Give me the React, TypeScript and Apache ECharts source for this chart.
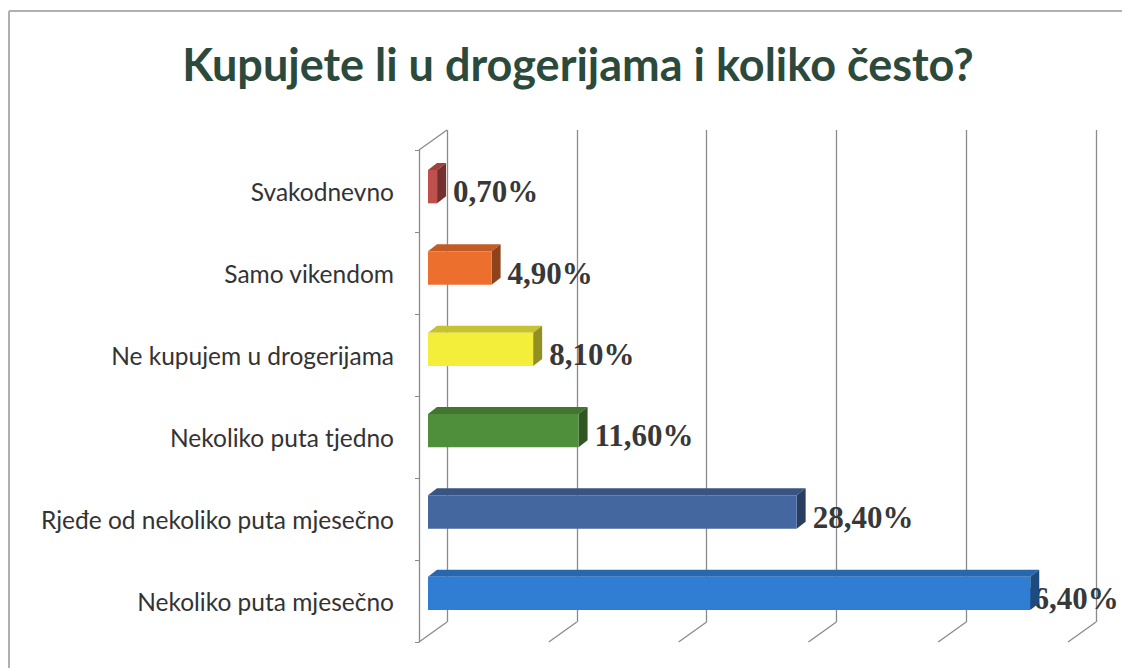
import React, { useEffect, useRef } from "react";
import * as echarts from "echarts";

const TITLE = "Kupujete li u drogerijama i koliko često?";
const CATEGORIES = [
  "Svakodnevno",
  "Samo vikendom",
  "Ne kupujem u drogerijama",
  "Nekoliko puta tjedno",
  "Rjeđe od nekoliko puta mjesečno",
  "Nekoliko puta mjesečno",
];
const VALUES = [0.7, 4.9, 8.1, 11.6, 28.4, 46.4];
const COLORS = ["#c0504d", "#ec6f2e", "#f3ee3a", "#4f8f3b", "#44679f", "#2f7ed3"];
const TICKS = [0, 10, 20, 30, 40, 50];

function shade(hex: string, f: number): string {
  const n = parseInt(hex.slice(1), 16);
  const r = Math.round(((n >> 16) & 255) * f);
  const g = Math.round(((n >> 8) & 255) * f);
  const b = Math.round((n & 255) * f);
  return `rgb(${r},${g},${b})`;
}

const fmt = (v: number) => v.toFixed(2).replace(".", ",") + "%";

export default function App() {
  const ref = useRef<HTMLDivElement>(null);
  useEffect(() => {
    if (!ref.current) return;
    const chart = echarts.init(ref.current, null, { renderer: "svg" });
    const DX = 9, DY = 7; // bar depth
    const WX = -28, WY = 20; // wall depth (back -> front)
    const gridColor = "#8a8a8a";
    chart.setOption({
      animation: false,
      backgroundColor: "#ffffff",
      title: {
        text: TITLE,
        left: 573,
        textAlign: "center",
        top: 36,
        textStyle: {
          fontFamily: "Lato",
          fontWeight: "bold",
          fontSize: 45,
          color: "#2b4a3c",
        },
      },
      graphic: [
        { type: "line", shape: { x1: 9, y1: 11, x2: 1122, y2: 11 }, style: { stroke: "#b0b0b0", lineWidth: 2 } },
        { type: "line", shape: { x1: 9, y1: 11, x2: 9, y2: 668 }, style: { stroke: "#b0b0b0", lineWidth: 2 } },
      ],
      grid: [
        { left: 428, right: 45, top: 146, bottom: 34 },
        { left: 447, right: 26, top: 130, bottom: 46 },
        { left: 419, right: 54, top: 150, bottom: 26 },
      ],
      xAxis: [
        { gridIndex: 0, type: "value", min: 0, max: 50, interval: 10, show: false },
        {
          gridIndex: 1, type: "value", min: 0, max: 50, interval: 10,
          axisLine: { show: false }, axisTick: { show: false }, axisLabel: { show: false },
          splitLine: { show: true, lineStyle: { color: gridColor, width: 1.3 } },
        },
        { gridIndex: 2, type: "value", min: 0, max: 50, show: false },
      ],
      yAxis: [
        { gridIndex: 0, type: "category", data: CATEGORIES, inverse: true, show: false },
        { gridIndex: 1, type: "value", min: 0, max: 1, show: false },
        {
          gridIndex: 2, type: "category", data: CATEGORIES, inverse: true,
          axisLine: { show: true, lineStyle: { color: gridColor, width: 1.3 } },
          axisTick: { show: true, length: 4, lineStyle: { color: gridColor } },
          splitLine: { show: false },
          axisLabel: {
            margin: 25,
            fontFamily: "Lato",
            fontSize: 24.5,
            color: "#333333",
          },
        },
      ],
      series: [
        {
          type: "custom",
          xAxisIndex: 1,
          yAxisIndex: 1,
          silent: true,
          data: TICKS.map((t) => [t, 0]),
          renderItem: (params: any, api: any) => {
            const t = api.value(0);
            const p = api.coord([t, 0]);
            const children: any[] = [
              {
                type: "line",
                shape: { x1: p[0], y1: p[1], x2: p[0] + WX, y2: p[1] + WY },
                style: { stroke: gridColor, lineWidth: 1.3 },
              },
            ];
            if (params.dataIndex === 0) {
              const top = api.coord([t, 1]);
              children.push({
                type: "line",
                shape: { x1: top[0], y1: top[1], x2: top[0] + WX, y2: top[1] + WY },
                style: { stroke: gridColor, lineWidth: 1.3 },
              });
            }
            return { type: "group", children };
          },
        },
        {
          type: "custom",
          xAxisIndex: 0,
          yAxisIndex: 0,
          silent: true,
          clip: false,
          data: VALUES.map((v, i) => [v, i]),
          encode: { x: 0, y: 1 },
          renderItem: (params: any, api: any) => {
            const v = api.value(0);
            const i = api.value(1);
            const s = api.coord([0, i]);
            const e = api.coord([v, i]);
            const h = api.size([0, 1])[1] * 0.41;
            const x0 = s[0], x1 = e[0];
            const y0 = s[1] - h / 2, y1 = s[1] + h / 2;
            const c = COLORS[params.dataIndex];
            const lx = Math.min(x1 + 16, 1018);
            return {
              type: "group",
              children: [
                {
                  type: "text",
                  style: {
                    text: fmt(v),
                    x: lx,
                    y: s[1] + 5,
                    verticalAlign: "middle",
                    align: "left",
                    font: "bold 31px 'Liberation Serif', 'Times New Roman', serif",
                    fill: "#383838",
                  },
                },
                {
                  type: "polygon",
                  shape: { points: [[x0, y0], [x0 + DX, y0 - DY], [x1 + DX, y0 - DY], [x1, y0]] },
                  style: { fill: shade(c, 0.82) },
                },
                {
                  type: "polygon",
                  shape: { points: [[x1, y0], [x1 + DX, y0 - DY], [x1 + DX, y1 - DY], [x1, y1]] },
                  style: { fill: shade(c, 0.6) },
                },
                {
                  type: "rect",
                  shape: { x: x0, y: y0, width: Math.max(x1 - x0, 0), height: h },
                  style: { fill: c },
                },
              ],
            };
          },
        },
      ],
    });
    return () => chart.dispose();
  }, []);
  return (
    <div
      ref={ref}
      style={{ position: "absolute", left: 0, top: 0, width: 1122, height: 668 }}
    />
  );
}
